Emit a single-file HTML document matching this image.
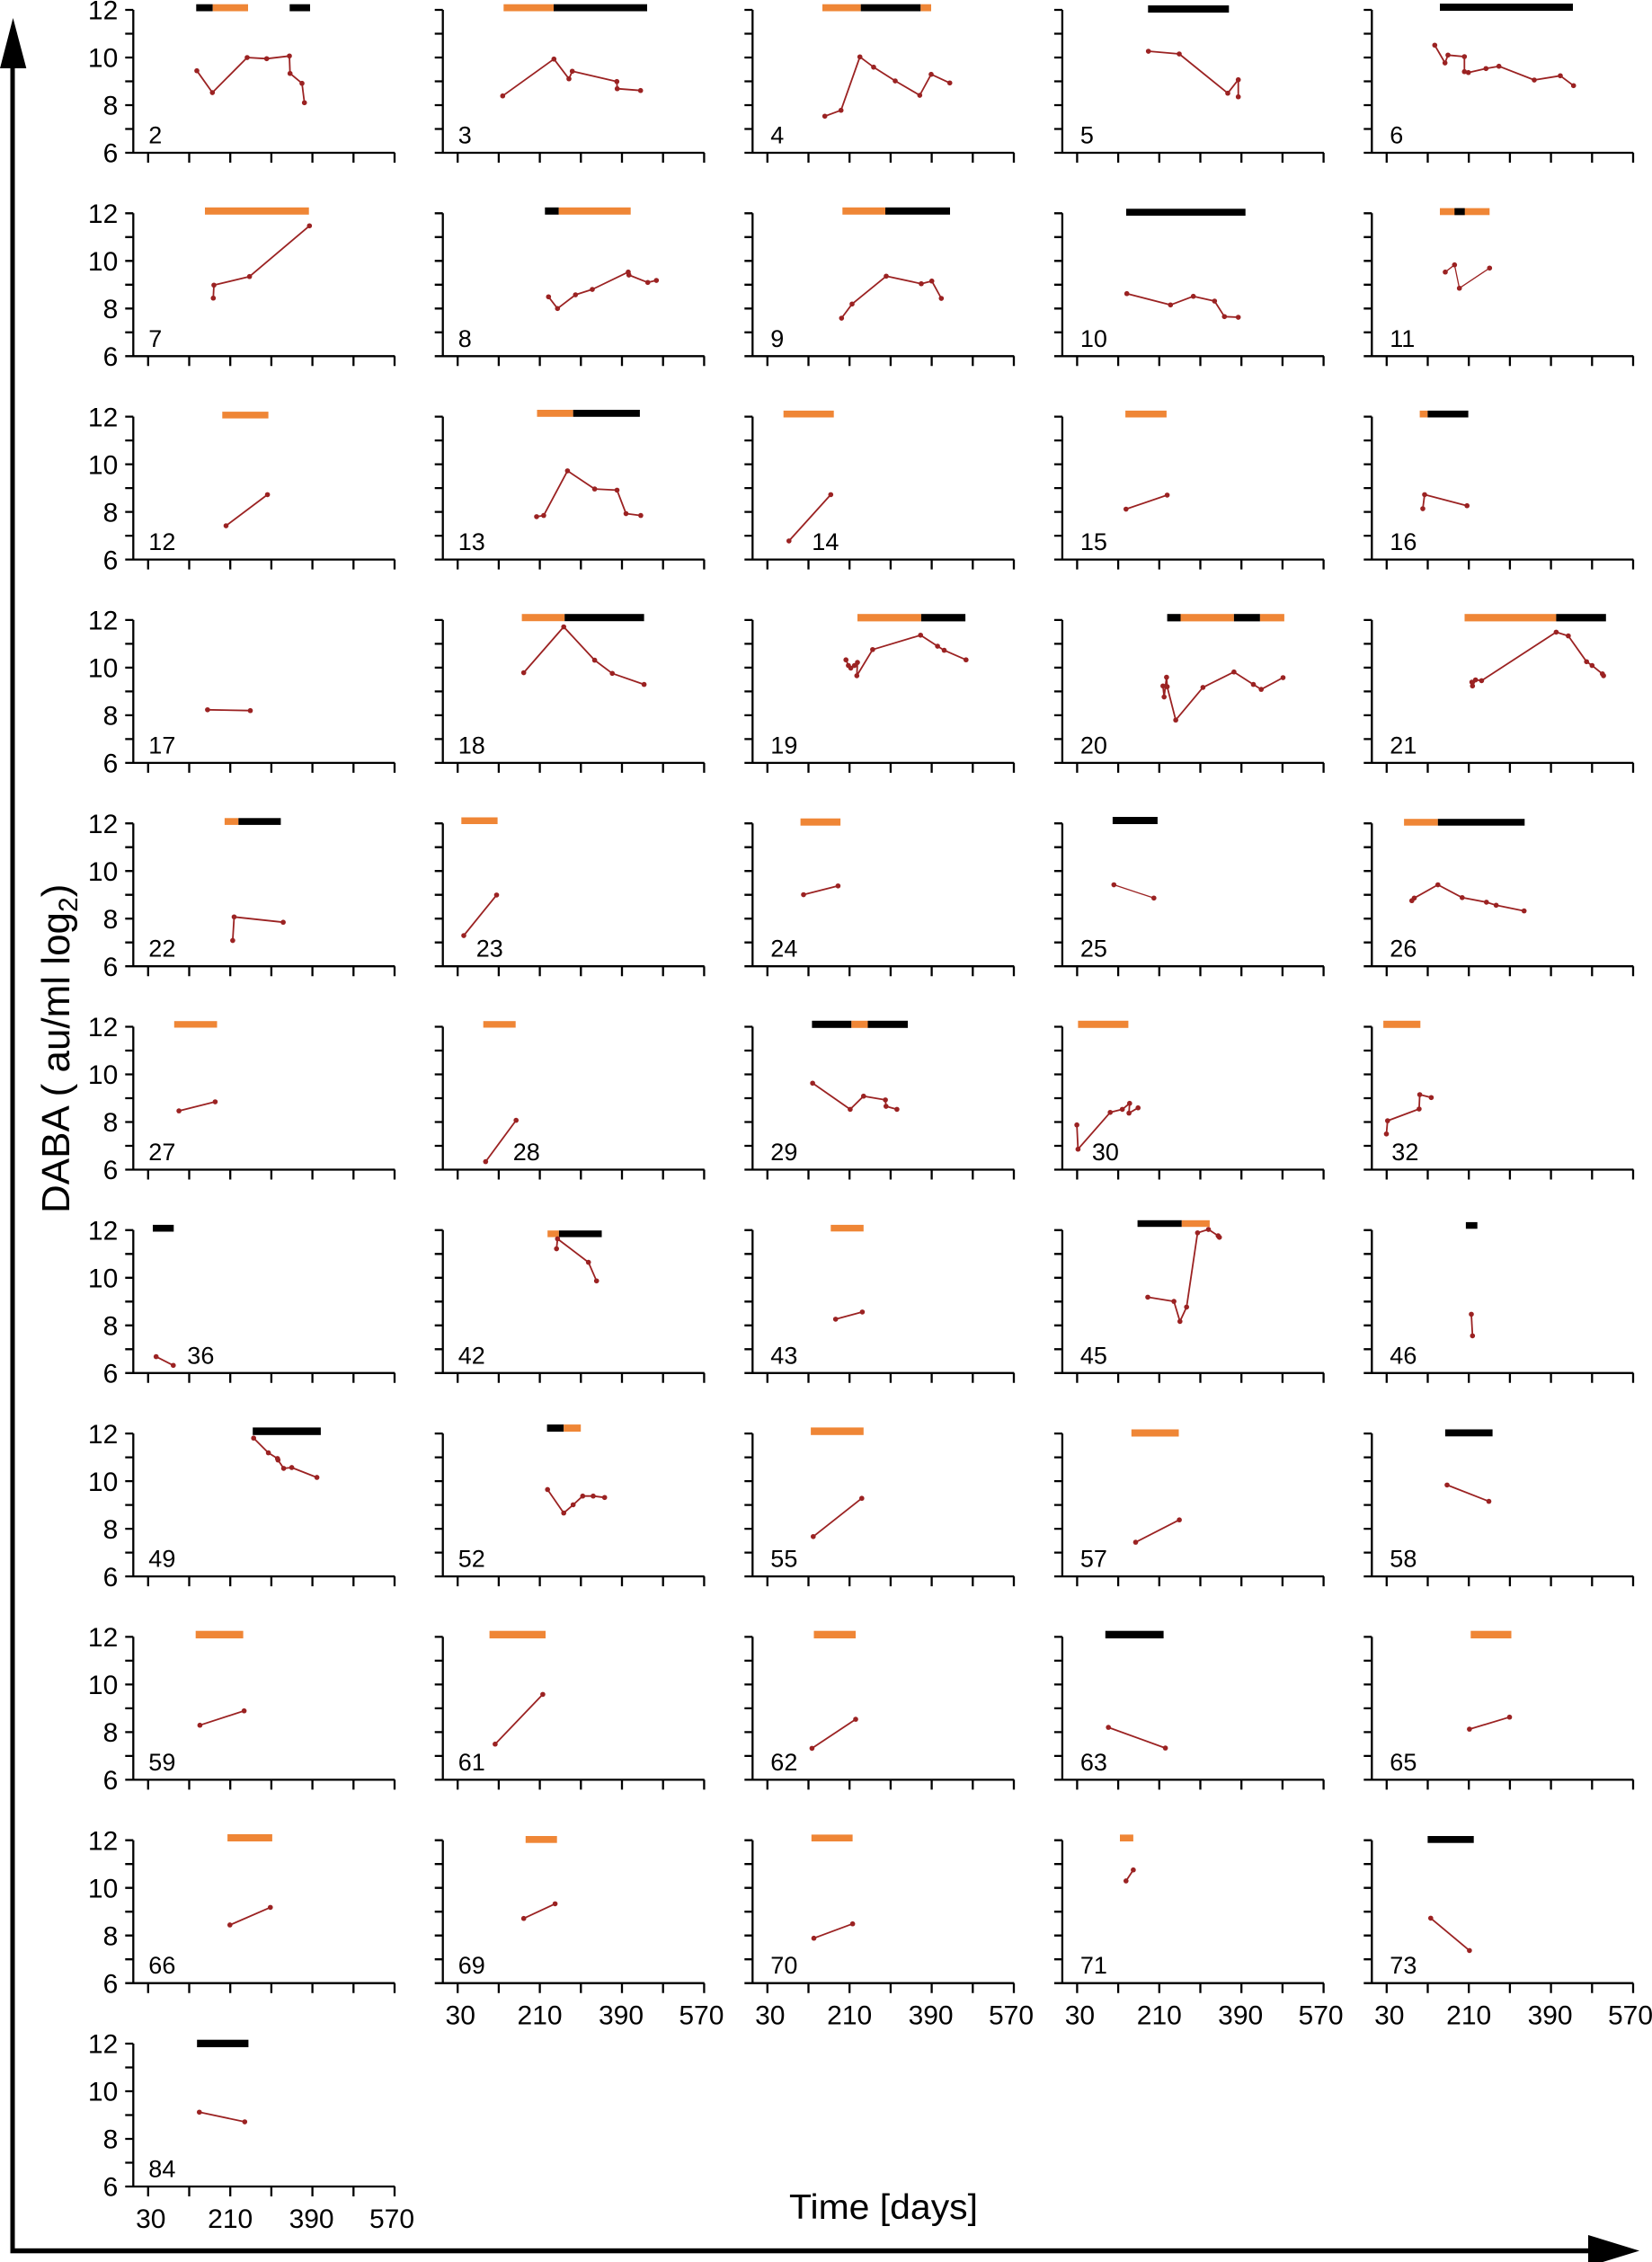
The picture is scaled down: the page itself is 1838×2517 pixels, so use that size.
<!DOCTYPE html>
<html><head><meta charset="utf-8"><title>DABA panels</title>
<style>
html,body{margin:0;padding:0;background:#fff;}
svg{display:block;font-family:"Liberation Sans",Arial,sans-serif;}
.o{fill:#ef8636}.k{fill:#000}
.l{fill:none;stroke:#9b2222;stroke-width:1.8;stroke-linejoin:round;marker-start:url(#d);marker-mid:url(#d);marker-end:url(#d)}
.n{font-size:27px;fill:#000}
.yt{font-size:30px;text-anchor:end;fill:#000}
.xt{font-size:30px;text-anchor:middle;fill:#000}
</style></head>
<body>
<svg xmlns="http://www.w3.org/2000/svg" width="1838" height="2517" viewBox="0 0 1838 2517">
<defs>
<marker id="d" viewBox="-4 -4 8 8" markerWidth="7.5" markerHeight="7.5" refX="0" refY="0" markerUnits="userSpaceOnUse"><circle r="3" fill="#9b2222"/></marker>
<path id="ax" d="M0,0V159 M-9,159H291 M-9,0H0 M-9,26.5H0 M-9,53H0 M-9,79.5H0 M-9,106H0 M-9,132.5H0 M16.5,159v11 M62.2,159v11 M107.9,159v11 M153.6,159v11 M199.3,159v11 M245,159v11 M290.7,159v11" fill="none" stroke="#000" stroke-width="2.3"/>
<g id="yl"><text class="yt" x="-17" y="10.7">12</text><text class="yt" x="-17" y="63.7">10</text><text class="yt" x="-17" y="116.7">8</text><text class="yt" x="-17" y="169.7">6</text></g>
<g id="xl"><text class="xt" x="19.5" y="205">30</text><text class="xt" x="107.9" y="205">210</text><text class="xt" x="198.3" y="205">390</text><text class="xt" x="287.7" y="205">570</text></g>
</defs>

<!-- outer arrows -->
<rect x="11.5" y="70" width="5" height="2437" fill="#000"/>
<polygon points="0,76 14.5,20 29.3,76" fill="#000"/>
<rect x="11.5" y="2501.8" width="1760" height="5.5" fill="#000"/>
<polygon points="1767,2487 1824,2504.5 1767,2522" fill="#000"/>

<text transform="translate(77,1350) rotate(-90)" font-size="44">DABA ( au/ml log<tspan font-size="30" dy="9">2</tspan><tspan dy="-9">)</tspan></text>
<text x="878" y="2469" font-size="39" textLength="210" lengthAdjust="spacingAndGlyphs">Time [days]</text>

<!-- Row 1 y=11 -->
<g transform="translate(148.3,11)"><use href="#ax"/><use href="#yl"/>
<rect class="k" x="70" y="-6.3" width="18.4" height="7.8"/><rect class="o" x="88.4" y="-6.3" width="39.3" height="7.8"/><rect class="k" x="174" y="-6.3" width="22.7" height="7.8"/>
<polyline class="l" points="70.7,67.7 88,92 126.7,53 148.4,54.3 173.7,51.3 174.4,70.7 187.7,81.7 190.4,103.3"/>
<text class="n" x="17" y="148.5">2</text></g>

<g transform="translate(492.7,11)"><use href="#ax"/>
<rect class="o" x="67.6" y="-6.3" width="55.7" height="7.8"/><rect class="k" x="123.3" y="-6.3" width="104" height="7.8"/>
<polyline class="l" points="66.6,95.7 123.6,54.7 140.3,76.7 144,68.3 193.6,79.7 194,87.7 220,89.7"/>
<text class="n" x="17" y="148.5">3</text></g>

<g transform="translate(837.3,11)"><use href="#ax"/>
<rect class="o" x="77.7" y="-6.3" width="42.7" height="7.8"/><rect class="k" x="120.4" y="-6.3" width="66.6" height="7.8"/><rect class="o" x="187" y="-6.3" width="11.7" height="7.8"/>
<polyline class="l" points="80.4,118.3 98.4,111.7 119.4,52.3 134.7,63.7 158.7,79 186,95 198.7,71.7 219.4,81.3"/>
<text class="n" x="20" y="148.5">4</text></g>

<g transform="translate(1181.9,11)"><use href="#ax"/>
<rect class="k" x="95.4" y="-5" width="90" height="8"/>
<polyline class="l" points="95.8,46 130.1,49 184.1,92.7 195.8,77.7 195.8,96.7"/>
<text class="n" x="20" y="148.5">5</text></g>

<g transform="translate(1526.3,11)"><use href="#ax"/>
<rect class="k" x="75.7" y="-7" width="148" height="8"/>
<polyline class="l" points="70,39.3 81.4,59 84.7,50.3 103,52 103,68.7 107.4,69.7 127,65.3 141.4,62.7 180.7,78 209.7,73.3 224.4,84.3"/>
<text class="n" x="20" y="148.5">6</text></g>

<!-- Row 2 y=237.3 -->
<g transform="translate(148.3,237.3)"><use href="#ax"/><use href="#yl"/>
<rect class="o" x="79.7" y="-6.5" width="115.7" height="8"/>
<polyline class="l" points="89,94.4 89.7,80 129.3,70.4 196,14"/>
<text class="n" x="17" y="148.5">7</text></g>

<g transform="translate(492.7,237.3)"><use href="#ax"/>
<rect class="k" x="113.6" y="-6.5" width="15.4" height="8"/><rect class="o" x="129" y="-6.5" width="80" height="8"/>
<polyline class="l" points="117.6,93 127.6,106 147.6,90.7 166.3,84.7 206.3,65.4 207,68.7 228,77 237.6,74.7"/>
<text class="n" x="17" y="148.5">8</text></g>

<g transform="translate(837.3,237.3)"><use href="#ax"/>
<rect class="o" x="100" y="-6.5" width="47.7" height="8"/><rect class="k" x="147.7" y="-6.5" width="72" height="8"/>
<polyline class="l" points="99,116.7 110.7,101 148.7,70 187.7,78.4 199.4,75.4 210,94.7"/>
<text class="n" x="20" y="148.5">9</text></g>

<g transform="translate(1181.9,237.3)"><use href="#ax"/>
<rect class="k" x="71.1" y="-5" width="132.7" height="7.7"/>
<polyline class="l" points="71.8,89.4 120.4,102 145.8,92.4 169.4,97.7 180.4,115 195.8,115.7"/>
<text class="n" x="20" y="148.5">10</text></g>

<g transform="translate(1526.3,237.3)"><use href="#ax"/>
<rect class="o" x="75.7" y="-5.7" width="55.3" height="7.7"/><rect class="k" x="92" y="-5.7" width="11.4" height="7.7"/>
<polyline class="l" points="81.7,65.4 92,57.4 97.4,83.4 131,61" style="stroke-width:1.3"/>
<text class="n" x="20" y="148.5">11</text></g>

<!-- Row 3 y=463.6 -->
<g transform="translate(148.3,463.6)"><use href="#ax"/><use href="#yl"/>
<rect class="o" x="99" y="-5.5" width="51.3" height="7.5"/>
<polyline class="l" points="103.2,121.4 149.3,86.8"/>
<text class="n" x="17" y="148.5">12</text></g>

<g transform="translate(492.7,463.6)"><use href="#ax"/>
<rect class="o" x="104.8" y="-7.6" width="40.2" height="7.8"/><rect class="k" x="145" y="-7.6" width="74.2" height="7.8"/>
<polyline class="l" points="104.3,111.3 112.2,110 138.7,60.3 168.9,80.5 193.8,81.8 203.8,107.9 220.2,110"/>
<text class="n" x="17" y="148.5">13</text></g>

<g transform="translate(837.3,463.6)"><use href="#ax"/>
<rect class="o" x="34.4" y="-6.7" width="56" height="7.6"/>
<polyline class="l" points="40.5,138.3 87,86.8"/>
<text class="n" x="66" y="148.5">14</text></g>

<g transform="translate(1181.9,463.6)"><use href="#ax"/>
<rect class="o" x="70.2" y="-6.7" width="45.8" height="7.6"/>
<polyline class="l" points="70.9,102.9 116.7,87.3"/>
<text class="n" x="20" y="148.5">15</text></g>

<g transform="translate(1526.3,463.6)"><use href="#ax"/>
<rect class="o" x="53.3" y="-6.7" width="8.8" height="7.6"/><rect class="k" x="62.1" y="-6.7" width="45.2" height="7.6"/>
<polyline class="l" points="56.7,102.4 58.7,86.8 105.9,99.1"/>
<text class="n" x="20" y="148.5">16</text></g>

<!-- Row 4 y=689.9 -->
<g transform="translate(148.3,689.9)"><use href="#ax"/><use href="#yl"/>
<polyline class="l" points="82.6,99.9 130.2,100.8"/>
<text class="n" x="17" y="148.5">17</text></g>

<g transform="translate(492.7,689.9)"><use href="#ax"/>
<rect class="o" x="87.9" y="-6.7" width="47.6" height="8"/><rect class="k" x="135.5" y="-6.7" width="88.4" height="8"/>
<polyline class="l" points="90,58.6 134.5,7.6 168.9,44.7 188.5,59.4 223.9,71.7"/>
<text class="n" x="17" y="148.5">18</text></g>

<g transform="translate(837.3,689.9)"><use href="#ax"/>
<rect class="o" x="116.7" y="-6.7" width="70.9" height="8.2"/><rect class="k" x="187.6" y="-6.7" width="49.2" height="8.2"/>
<polyline class="l" points="103.9,44.3 106.6,50.6 109.3,53.5 113.4,50.6 116.7,47.2 116,62 133.6,32.9 186.9,16.9 205.8,29.1 213.2,33.7 237.5,44.3"/>
<text class="n" x="20" y="148.5">19</text></g>

<g transform="translate(1181.9,689.9)"><use href="#ax"/>
<rect class="k" x="116.7" y="-6.7" width="14.9" height="8.2"/><rect class="o" x="131.6" y="-6.7" width="59.4" height="8.2"/><rect class="k" x="191" y="-6.7" width="29" height="8.2"/><rect class="o" x="220" y="-6.7" width="27" height="8.2"/>
<polyline class="l" points="112,73.4 113.3,85.6 116,63.7 116.7,74.2 126.2,111.3 156.5,75 191,57.8 212.6,71.7 221.3,77.2 245.6,64.1"/>
<text class="n" x="20" y="148.5">20</text></g>

<g transform="translate(1526.3,689.9)"><use href="#ax"/>
<rect class="o" x="103.2" y="-6.7" width="101.9" height="8.2"/><rect class="k" x="205.1" y="-6.7" width="55.4" height="8.2"/>
<polyline class="l" points="111.3,69.1 112,73.4 115.4,66.6 122.1,67.5 205.1,13.5 218.6,17.7 238.9,46.4 245,50.6 256.5,59.9 257.8,62"/>
<text class="n" x="20" y="148.5">21</text></g>

<!-- Row 5 y=916.2 -->
<g transform="translate(148.3,916.2)"><use href="#ax"/><use href="#yl"/>
<rect class="o" x="101.6" y="-5.9" width="15.4" height="7.6"/><rect class="k" x="117" y="-5.9" width="47.1" height="7.6"/>
<polyline class="l" points="110.6,130.3 112.2,104.1 166.8,110"/>
<text class="n" x="17" y="148.5">22</text></g>

<g transform="translate(492.7,916.2)"><use href="#ax"/>
<rect class="o" x="20.6" y="-6.7" width="40.3" height="7.5"/>
<polyline class="l" points="23.3,124.8 59.8,79.7"/>
<text class="n" x="37" y="148.5">23</text></g>

<g transform="translate(837.3,916.2)"><use href="#ax"/>
<rect class="o" x="53.3" y="-5.5" width="44.5" height="8"/>
<polyline class="l" points="56.7,79.3 95.1,69.6"/>
<text class="n" x="20" y="148.5">24</text></g>

<g transform="translate(1181.9,916.2)"><use href="#ax"/>
<rect class="k" x="56" y="-7.2" width="50" height="8"/>
<polyline class="l" points="57.4,68.3 101.9,83.1" style="stroke-width:1.3"/>
<text class="n" x="20" y="148.5">25</text></g>

<g transform="translate(1526.3,916.2)"><use href="#ax"/>
<rect class="o" x="35.8" y="-5" width="37.7" height="7.5"/><rect class="k" x="73.5" y="-5" width="96.5" height="7.5"/>
<polyline class="l" points="44.5,86 47.2,83.1 73.5,68.3 100.5,82.6 127.5,87.7 138.3,91.1 169.4,97.4"/>
<text class="n" x="20" y="148.5">26</text></g>

<!-- Row 6 y=1142.5 -->
<g transform="translate(148.3,1142.5)"><use href="#ax"/><use href="#yl"/>
<rect class="o" x="45.5" y="-6.3" width="47.7" height="7.3"/>
<polyline class="l" points="50.8,93.6 91.1,83.5"/>
<text class="n" x="17" y="148.5">27</text></g>

<g transform="translate(492.7,1142.5)"><use href="#ax"/>
<rect class="o" x="45" y="-6.3" width="36" height="7.3"/>
<polyline class="l" points="47.6,150.1 81.5,104.1"/>
<text class="n" x="78" y="148.5">28</text></g>

<g transform="translate(837.3,1142.5)"><use href="#ax"/>
<rect class="k" x="66.1" y="-6.7" width="43.9" height="8"/><rect class="o" x="110" y="-6.7" width="18.2" height="8"/><rect class="k" x="128.2" y="-6.7" width="44.5" height="8"/>
<polyline class="l" points="66.8,62.8 108.6,91.9 123.5,77.2 147.8,81.4 148.5,88.5 160.6,91.9"/>
<text class="n" x="20" y="148.5">29</text></g>

<g transform="translate(1181.9,1142.5)"><use href="#ax"/>
<rect class="o" x="17.5" y="-6.7" width="56" height="8"/>
<polyline class="l" points="16.2,109.2 17.5,136.2 53.3,95.3 66.8,91.9 74.9,85.2 74.2,96.1 84.3,90.2"/>
<text class="n" x="33" y="148.5">30</text></g>

<g transform="translate(1526.3,1142.5)"><use href="#ax"/>
<rect class="o" x="12.8" y="-6.7" width="41.2" height="8"/>
<polyline class="l" points="16.2,119.3 17.5,104.6 52.6,91.5 53.3,75.5 66.1,78.8"/>
<text class="n" x="22" y="148.5">32</text></g>

<!-- Row 7 y=1368.8 -->
<g transform="translate(148.3,1368.8)"><use href="#ax"/><use href="#yl"/>
<rect class="k" x="21.7" y="-5.9" width="23.3" height="7.6"/>
<polyline class="l" points="25.4,140.8 44.5,150.5"/>
<text class="n" x="60" y="148.5">36</text></g>

<g transform="translate(492.7,1368.8)"><use href="#ax"/>
<rect class="o" x="116.5" y="0.4" width="12.7" height="7.4"/><rect class="k" x="129.2" y="0.4" width="47.6" height="7.4"/>
<polyline class="l" points="126.5,20.7 127.6,9.7 162,35.8 171,56.5"/>
<text class="n" x="17" y="148.5">42</text></g>

<g transform="translate(837.3,1368.8)"><use href="#ax"/>
<rect class="o" x="87" y="-5.9" width="36.5" height="7.4"/>
<polyline class="l" points="92.4,99.1 122.1,91.1"/>
<text class="n" x="20" y="148.5">43</text></g>

<g transform="translate(1181.9,1368.8)"><use href="#ax"/>
<rect class="k" x="83.7" y="-11" width="49.2" height="7.4"/><rect class="o" x="132.9" y="-11" width="31.1" height="7.4"/>
<polyline class="l" points="95.1,74.6 124.2,79.3 130.9,101.6 138.3,85.6 150.5,3 162.6,-0.8 173.4,6.3 174.8,8"/>
<text class="n" x="20" y="148.5">45</text></g>

<g transform="translate(1526.3,1368.8)"><use href="#ax"/>
<rect class="k" x="104.6" y="-8.9" width="12.8" height="7.4"/>
<polyline class="l" points="110.7,93.6 112,117.6"/>
<text class="n" x="20" y="148.5">46</text></g>

<!-- Row 8 y=1595.1 -->
<g transform="translate(148.3,1595.1)"><use href="#ax"/><use href="#yl"/>
<rect class="k" x="132.9" y="-6.7" width="75.7" height="8.4"/>
<polyline class="l" points="133.9,5.1 150.3,21.5 160.4,27.8 161,29.5 167.3,38.8 176.3,37.9 204.3,48.9"/>
<text class="n" x="17" y="148.5">49</text></g>

<g transform="translate(492.7,1595.1)"><use href="#ax"/>
<rect class="k" x="115.9" y="-10" width="18.6" height="8"/><rect class="o" x="134.5" y="-10" width="19" height="8"/>
<polyline class="l" points="116.5,62.4 134.5,88.5 145,79.3 155.6,69.6 167.3,69.6 180,71.2"/>
<text class="n" x="17" y="148.5">52</text></g>

<g transform="translate(837.3,1595.1)"><use href="#ax"/>
<rect class="o" x="64.8" y="-6.7" width="58.7" height="8.4"/>
<polyline class="l" points="67.5,114.7 121.5,72.1"/>
<text class="n" x="20" y="148.5">55</text></g>

<g transform="translate(1181.9,1595.1)"><use href="#ax"/>
<rect class="o" x="76.9" y="-4.6" width="52.7" height="8"/>
<polyline class="l" points="81.6,121 130.2,96.1"/>
<text class="n" x="20" y="148.5">57</text></g>

<g transform="translate(1526.3,1595.1)"><use href="#ax"/>
<rect class="k" x="81.6" y="-4.6" width="52.7" height="7.8"/>
<polyline class="l" points="83.7,57.3 130.2,75.5"/>
<text class="n" x="20" y="148.5">58</text></g>

<!-- Row 9 y=1821.4 -->
<g transform="translate(148.3,1821.4)"><use href="#ax"/><use href="#yl"/>
<rect class="o" x="69.4" y="-6.7" width="52.9" height="8.4"/>
<polyline class="l" points="74.1,98.3 123.3,82.3"/>
<text class="n" x="17" y="148.5">59</text></g>

<g transform="translate(492.7,1821.4)"><use href="#ax"/>
<rect class="o" x="51.9" y="-6.7" width="62.4" height="8.4"/>
<polyline class="l" points="58.2,119.3 111.2,64"/>
<text class="n" x="17" y="148.5">61</text></g>

<g transform="translate(837.3,1821.4)"><use href="#ax"/>
<rect class="o" x="68.2" y="-6.7" width="46.5" height="8.4"/>
<polyline class="l" points="66.1,124 114.7,91.7"/>
<text class="n" x="20" y="148.5">62</text></g>

<g transform="translate(1181.9,1821.4)"><use href="#ax"/>
<rect class="k" x="47.9" y="-6.7" width="64.8" height="8.4"/>
<polyline class="l" points="51.3,100.7 114.7,123.7"/>
<text class="n" x="20" y="148.5">63</text></g>

<g transform="translate(1526.3,1821.4)"><use href="#ax"/>
<rect class="o" x="110" y="-6.7" width="45.2" height="8.4"/>
<polyline class="l" points="108.6,102.7 153.2,89.3"/>
<text class="n" x="20" y="148.5">65</text></g>

<!-- Row 10 y=2047.7 -->
<g transform="translate(148.3,2047.7)"><use href="#ax"/><use href="#yl"/>
<rect class="o" x="104.8" y="-6.7" width="49.8" height="8"/>
<polyline class="l" points="107.5,94.3 152.5,74.7"/>
<text class="n" x="17" y="148.5">66</text></g>

<g transform="translate(492.7,2047.7)"><use href="#ax"/><use href="#xl"/>
<rect class="o" x="92.1" y="-4.7" width="34.9" height="7.7"/>
<polyline class="l" points="90,87 124.9,70.7"/>
<text class="n" x="17" y="148.5">69</text></g>

<g transform="translate(837.3,2047.7)"><use href="#ax"/><use href="#xl"/>
<rect class="o" x="65.5" y="-6.3" width="45.8" height="7.6"/>
<polyline class="l" points="68.2,109 111.3,93"/>
<text class="n" x="20" y="148.5">70</text></g>

<g transform="translate(1181.9,2047.7)"><use href="#ax"/><use href="#xl"/>
<rect class="o" x="64.1" y="-6.3" width="14.9" height="7.6"/>
<polyline class="l" points="70.9,45.3 79,33"/>
<text class="n" x="20" y="148.5">71</text></g>

<g transform="translate(1526.3,2047.7)"><use href="#ax"/><use href="#xl"/>
<rect class="k" x="62.1" y="-4.7" width="51.3" height="7.7"/>
<polyline class="l" points="65.5,86.7 108.6,122.7"/>
<text class="n" x="20" y="148.5">73</text></g>

<!-- Row 11 y=2274 -->
<g transform="translate(148.3,2274)"><use href="#ax"/><use href="#yl"/><use href="#xl"/>
<rect class="k" x="70.9" y="-4.3" width="57.2" height="8.3"/>
<polyline class="l" points="73.5,76.3 124,87"/>
<text class="n" x="17" y="148.5">84</text></g>

</svg>
</body></html>
